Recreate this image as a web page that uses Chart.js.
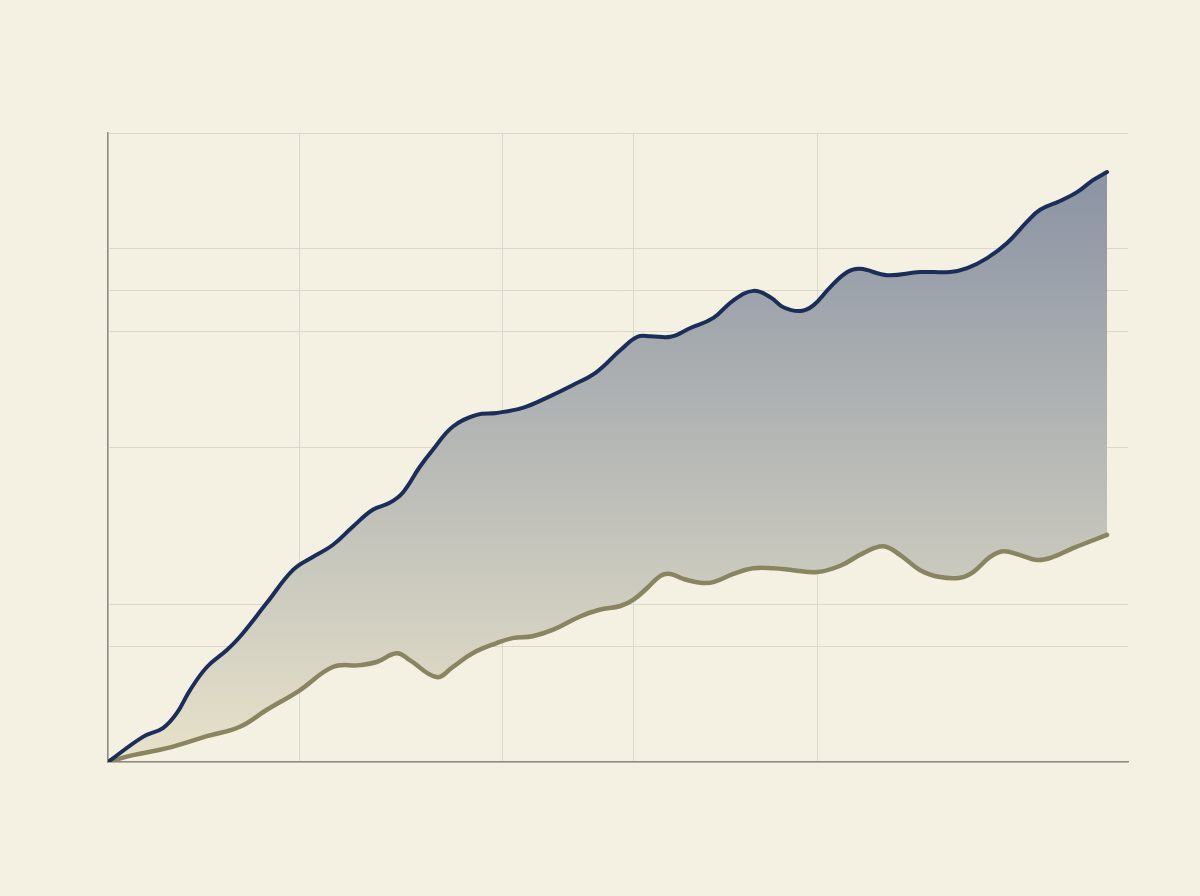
<!DOCTYPE html>
<html>
<head>
<meta charset="utf-8">
<script src="https://cdn.jsdelivr.net/npm/chart.js@4.4.1/dist/chart.umd.min.js"></script>
<style>
  html, body { margin: 0; padding: 0; background: #F4F1E3; }
  #wrap { width: 1200px; height: 896px; position: relative; }
</style>
</head>
<body>
<div id="wrap"><canvas id="areaChart"></canvas></div>
<script>
// --- Données (unités arbitraires, x 0-100, y 0-100) ---
const upperX = [0, 3.5, 5.5, 6.9, 8.2, 9.9, 11.9, 13.2, 15.9, 18.5, 20.5, 22.5, 24.5, 26.5, 28.2, 29.5,
  31.2, 32.5, 34.5, 36.9, 38.9, 41.5, 43.9, 46.5, 48.9, 51.3, 53.0, 54.3, 56.3, 58.3, 60.6, 62.6,
  64.6, 66.3, 67.6, 69.3, 70.6, 72.3, 74.0, 75.3, 78.0, 81.3, 84.3, 86.0, 88.0, 90.0, 92.0, 93.3,
  95.3, 97.0, 98.6, 100];
const upperY = [0, 4.0, 5.4, 7.8, 11.4, 15.1, 17.8, 19.9, 25.3, 30.5, 32.6, 34.5, 37.4, 40.1, 41.2, 42.8,
  46.9, 49.6, 53.3, 55.2, 55.5, 56.3, 57.9, 59.9, 62.0, 65.5, 67.6, 67.7, 67.6, 69.0, 70.6, 73.4,
  74.9, 73.9, 72.3, 71.7, 72.6, 75.5, 77.9, 78.4, 77.4, 77.9, 77.9, 78.5, 80.1, 82.5, 85.9, 87.8,
  89.2, 90.6, 92.5, 93.8];

const lowerX = [0, 2.5, 5.9, 9.9, 13.2, 15.9, 19.2, 22.5, 25.2, 26.9, 28.9, 30.2, 32.9, 34.5, 36.5, 38.9,
  40.5, 42.5, 44.5, 47.2, 49.2, 51.3, 52.6, 54.0, 55.3, 56.3, 57.6, 59.3, 60.6, 62.6, 64.6, 66.6,
  68.6, 71.0, 73.3, 75.6, 77.6, 79.3, 81.3, 83.3, 85.3, 86.6, 88.3, 89.6, 91.3, 93.0, 94.6, 96.6, 100];
const lowerY = [0, 1.1, 2.2, 4.1, 5.6, 8.3, 11.4, 15.1, 15.4, 15.9, 17.3, 16.2, 13.5, 15.1, 17.3, 18.9,
  19.7, 20.0, 21.0, 23.1, 24.2, 24.8, 25.8, 27.7, 29.6, 29.9, 29.1, 28.5, 28.6, 29.9, 30.8, 30.8,
  30.5, 30.2, 31.2, 33.2, 34.3, 32.9, 30.5, 29.4, 29.3, 30.2, 32.6, 33.5, 32.9, 32.1, 32.6, 34.0, 36.1];

// Lignes de grille (irrégulières sur l'original)
const xGridValues = [0, 19.2, 39.5, 52.6, 71.0, 102.1];
const yGridValues = [0, 18.3, 25, 50, 68.5, 75, 81.7, 100];

const toPoints = (xs, ys) => xs.map((x, i) => ({ x: x, y: ys[i] }));

// Dégradé vertical de la zone entre les deux courbes
function bandGradient(context) {
  const area = context.chart.chartArea;
  if (!area) return "rgba(0,0,0,0)";
  const g = context.chart.ctx.createLinearGradient(0, area.top, 0, area.bottom);
  g.addColorStop(0, "#848EA1");
  g.addColorStop(1, "#E8E2CA");
  return g;
}

const GRID = "#DAD7CB";
const AXIS = "#8F8D82";

new Chart(document.getElementById("areaChart"), {
  type: "line",
  data: {
    datasets: [
      {
        data: toPoints(upperX, upperY),
        borderColor: "#1B2E5A",
        borderWidth: 4,
        backgroundColor: bandGradient,
        fill: { target: 1 },
        tension: 0.4,
        pointRadius: 0,
        borderCapStyle: "round",
        borderJoinStyle: "round"
      },
      {
        data: toPoints(lowerX, lowerY),
        borderColor: "#898560",
        borderWidth: 4.5,
        fill: false,
        tension: 0.4,
        pointRadius: 0,
        borderCapStyle: "round",
        borderJoinStyle: "round"
      }
    ]
  },
  options: {
    responsive: true,
    maintainAspectRatio: false,
    animation: false,
    layout: { padding: { left: 108, top: 133, right: 72, bottom: 134 } },
    plugins: {
      legend: { display: false },
      tooltip: { enabled: false },
      filler: { drawTime: "beforeDatasetsDraw" } // la zone passe sous les deux courbes
    },
    scales: {
      x: {
        type: "linear",
        min: 0,
        max: 102.1,
        afterBuildTicks: (scale) => { scale.ticks = xGridValues.map(v => ({ value: v })); },
        ticks: { display: false },
        grid: {
          drawTicks: false,
          lineWidth: 1,
          color: (ctx) => ctx.index === xGridValues.length - 1 ? "rgba(0,0,0,0)" : GRID
        },
        border: { display: true, color: AXIS, width: 1.5 }
      },
      y: {
        min: 0,
        max: 100,
        afterBuildTicks: (scale) => { scale.ticks = yGridValues.map(v => ({ value: v })); },
        ticks: { display: false },
        grid: { drawTicks: false, lineWidth: 1, color: GRID },
        border: { display: true, color: AXIS, width: 1.5 }
      }
    }
  }
});
</script>
</body>
</html>
